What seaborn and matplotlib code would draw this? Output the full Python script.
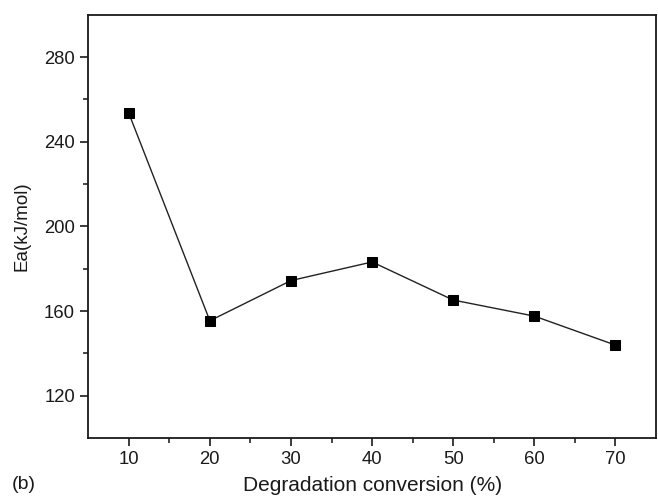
import matplotlib
matplotlib.use("Agg")
import matplotlib.pyplot as plt
import numpy as np
import pandas as pd
import seaborn as sns

# Data
conversion = [10, 20, 30, 40, 50, 60, 70]
ea = [253.6, 155.4, 174.4, 183.2, 165.2, 157.6, 143.9]
x_ticks = [10, 20, 30, 40, 50, 60, 70]
y_ticks = [120, 160, 200, 240, 280]

df = pd.DataFrame({"conversion": conversion, "ea": ea})

sns.set_theme(style="ticks")
plt.rcParams['font.family'] = ['Liberation Sans', 'DejaVu Sans']

fig = plt.figure(figsize=(6.58, 4.96), dpi=100)
ax = fig.add_axes([0.134, 0.117, 0.863, 0.853])

sns.lineplot(data=df, x="conversion", y="ea", ax=ax, color="#222222", linewidth=1.0,
             marker="s", markersize=6.5, markerfacecolor="black", markeredgecolor="black")

ax.set_xlim(5, 75)
ax.set_ylim(100, 300)
ax.set_xticks(x_ticks)
ax.set_yticks(y_ticks)
ax.set_xticks(np.arange(15, 75, 10), minor=True)
ax.set_yticks(np.arange(140, 300, 40), minor=True)
ax.tick_params(axis="both", which="major", direction="out", length=6, width=1.2,
               labelsize=13.3, colors="#1a1a1a", pad=3.5)
ax.tick_params(axis="both", which="minor", direction="out", length=3.5, width=1.2)
ax.tick_params(top=False, right=False)

for s in ax.spines.values():
    s.set_linewidth(1.3)
    s.set_color("#1a1a1a")

ax.set_xlabel("Degradation conversion (%)", fontsize=15, color="#1a1a1a", labelpad=6)
ax.set_ylabel("Ea(kJ/mol)", fontsize=13.5, color="#1a1a1a", labelpad=10)
fig.text(0.018, 0.014, "(b)", fontsize=14, color="#1a1a1a")

fig.savefig("out.png", dpi=100)
